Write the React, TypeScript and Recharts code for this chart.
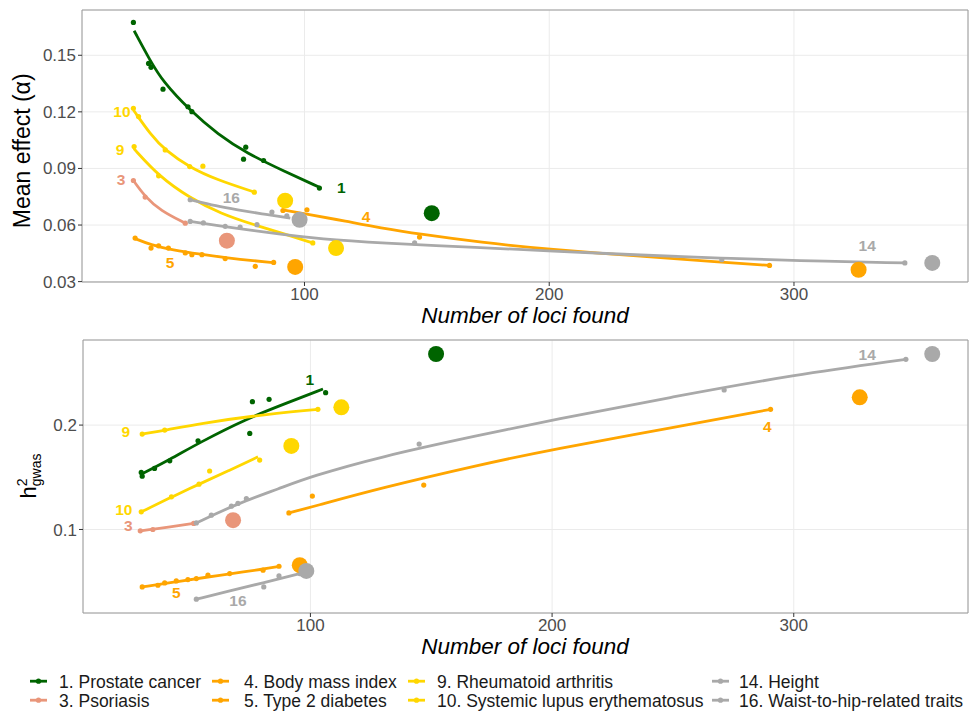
import React from 'react';
import { ComposedChart, Line, Scatter, XAxis, YAxis, CartesianGrid, ReferenceArea } from 'recharts';

type P = [number, number];

// ---------- categories / colours ----------
const seriesIds = ['1', '3', '4', '5', '9', '10', '14', '16'];
const seriesNames = [
  '1. Prostate cancer', '3. Psoriasis', '4. Body mass index', '5. Type 2 diabetes',
  '9. Rheumatoid arthritis', '10. Systemic lupus erythematosus', '14. Height', '16. Waist-to-hip-related traits',
];
const seriesColors = ['#006400', '#E9967A', '#FFA500', '#FFA500', '#FFD700', '#FFD700', '#A9A9A9', '#A9A9A9'];

// ---------- top panel: mean effect ----------
const topPts1: P[] = [[30.1, 0.1674], [36.3, 0.1457], [37.3, 0.1436], [42.2, 0.132], [52.4, 0.1227], [54.0, 0.1201], [76.0, 0.1013], [75.1, 0.0949], [83.3, 0.0942], [106.1, 0.0796]];
const topFit1: P[] = [[30.4, 0.163], [37, 0.147], [42.2, 0.136], [53, 0.121], [64.7, 0.108], [76.5, 0.098], [91.8, 0.0885], [106.1, 0.08]];
const topPts3: P[] = [[30.1, 0.0836], [34.9, 0.0748], [51.3, 0.061]];
const topFit3: P[] = [[30.1, 0.0836], [34.9, 0.075], [41.1, 0.0677], [51.3, 0.061]];
const topPts4: P[] = [[91.2, 0.0677], [101.0, 0.0681], [147.0, 0.0536], [290.0, 0.0386]];
const topFit4: P[] = [[91.2, 0.068], [101, 0.0658], [117, 0.062], [131, 0.0585], [147, 0.0552], [172, 0.0508], [200, 0.047], [238.5, 0.0434], [269, 0.0404], [290, 0.0386]];
const topPts5: P[] = [[30.8, 0.0531], [37.3, 0.0478], [40.4, 0.049], [44.4, 0.0478], [51.3, 0.0452], [54.0, 0.0443], [58.1, 0.0443], [67.6, 0.0422], [79.9, 0.0381], [87.4, 0.0402]];
const topFit5: P[] = [[30.8, 0.0528], [37.1, 0.0495], [46.1, 0.0468], [57.6, 0.0445], [68.7, 0.0425], [79.4, 0.041], [87.4, 0.0401]];
const topPts9: P[] = [[30.4, 0.1016], [40.4, 0.0861], [103.4, 0.0505]];
const topFit9: P[] = [[30.3, 0.1005], [40.4, 0.086], [53.2, 0.0743], [65.9, 0.066], [79.2, 0.0602], [92.8, 0.0549], [103.4, 0.0505]];
const topPts10: P[] = [[30.1, 0.1219], [32.2, 0.1175], [43.1, 0.0998], [53.1, 0.091], [58.5, 0.0912], [79.5, 0.0774]];
const topFit10: P[] = [[30.1, 0.121], [37.1, 0.108], [43.2, 0.0995], [53.2, 0.0905], [64.2, 0.084], [79.5, 0.0775]];
const topPts14: P[] = [[53.3, 0.0619], [58.7, 0.0611], [67.6, 0.0593], [73.7, 0.0589], [80.6, 0.0602], [145.0, 0.0505], [270.5, 0.0416], [345.3, 0.0399]];
const topFit14: P[] = [[53.3, 0.0619], [65, 0.0596], [79.2, 0.0571], [90.1, 0.0551], [106.4, 0.0526], [130.9, 0.0505], [171.8, 0.048], [200, 0.0463], [238.5, 0.044], [270.5, 0.0424], [300, 0.0412], [345.3, 0.0399]];
const topPts16: P[] = [[53.3, 0.0734], [86.7, 0.0669], [92.8, 0.0649]];
const topFit16: P[] = [[53.4, 0.0734], [64.2, 0.07], [72.5, 0.0681], [82.3, 0.066], [94.2, 0.0637]];
const topBig: P[] = [[152.0, 0.0663], [68.3, 0.0517], [326.4, 0.0363], [96.2, 0.0378], [112.9, 0.0478], [92.1, 0.0729], [356.5, 0.0399], [98.0, 0.0628]];
const topLabelPos: P[] = [[115, 0.0797], [25.1, 0.084], [125.2, 0.0644], [45.1, 0.04], [24.7, 0.0998], [25.4, 0.1201], [329.9, 0.049], [70.1, 0.0744]];

// ---------- bottom panel: h2 gwas ----------
const botPts1: P[] = [[30.0, 0.1547], [30.4, 0.1511], [35.5, 0.1585], [41.8, 0.1658], [53.5, 0.185], [76.0, 0.2224], [82.9, 0.2247], [74.9, 0.192], [106.3, 0.231]];
const botFit1: P[] = [[30.0, 0.153], [41.8, 0.167], [53.9, 0.183], [73.5, 0.206], [90.1, 0.221], [105.2, 0.2345]];
const botPts3: P[] = [[29.6, 0.0987], [34.8, 0.1], [51.7, 0.1058]];
const botFit3: P[] = [[29.6, 0.0988], [34.8, 0.1], [51.7, 0.1058]];
const botPts4: P[] = [[91.1, 0.1159], [100.8, 0.132], [146.9, 0.1425], [290.4, 0.2151]];
const botFit4: P[] = [[91.1, 0.1159], [100.8, 0.1217], [128.7, 0.1395], [170.1, 0.162], [200, 0.1767], [250.2, 0.1976], [290.4, 0.2151]];
const botPts5: P[] = [[30.4, 0.045], [36.9, 0.0466], [39.7, 0.0488], [44.5, 0.0507], [49.3, 0.052], [52.8, 0.053], [57.6, 0.0562], [66.6, 0.0578], [80.4, 0.061], [87.0, 0.0648]];
const botFit5: P[] = [[30.4, 0.045], [44.5, 0.05], [57.6, 0.0545], [66.6, 0.0575], [80.4, 0.062], [87.0, 0.0645]];
const botPts9: P[] = [[30.4, 0.1914], [39.7, 0.1952], [103.1, 0.2151]];
const botFit9: P[] = [[30.4, 0.1914], [39.7, 0.195], [55, 0.2017], [74.9, 0.2085], [103.1, 0.2151]];
const botPts10: P[] = [[30.0, 0.1169], [42.5, 0.1313], [53.9, 0.1434], [58.3, 0.156], [79.0, 0.1665]];
const botFit10: P[] = [[30.0, 0.1169], [42.5, 0.131], [53.9, 0.1434], [66, 0.156], [78.3, 0.1696]];
const botPts14: P[] = [[52.8, 0.1063], [59.0, 0.1137], [67.3, 0.1223], [70.0, 0.125], [73.5, 0.1297], [145.0, 0.1818], [271.2, 0.2336], [346.4, 0.263]];
const botFit14: P[] = [[52.8, 0.1063], [70, 0.125], [87.3, 0.1393], [99.7, 0.1504], [128.7, 0.1696], [170.1, 0.1904], [200, 0.2048], [250.2, 0.2272], [300, 0.248], [346.4, 0.263]];
const botPts16: P[] = [[52.8, 0.0332], [80.7, 0.045], [87.0, 0.0555], [95.6, 0.0578]];
const botFit16: P[] = [[52.8, 0.0332], [66.6, 0.0411], [80.7, 0.049], [95.6, 0.0578]];
const botBig: P[] = [[152.0, 0.2681], [68.0, 0.1089], [327.3, 0.2266], [95.6, 0.0658], [112.8, 0.217], [92.1, 0.18], [357.3, 0.2681], [98.3, 0.0603]];
const botLabelPos: P[] = [[99.7, 0.2439], [24.6, 0.1035], [289.1, 0.1984], [44.5, 0.04], [23.6, 0.1943], [22.8, 0.1195], [330.4, 0.268], [70.0, 0.0315]];

// ---------- axes ----------
const xTicks = [100, 200, 300];
const topYTicks = [0.03, 0.06, 0.09, 0.12, 0.15];
const botYTicks = [0.1, 0.2];

const topPts = [topPts1, topPts3, topPts4, topPts5, topPts9, topPts10, topPts14, topPts16];
const topFits = [topFit1, topFit3, topFit4, topFit5, topFit9, topFit10, topFit14, topFit16];
const botPts = [botPts1, botPts3, botPts4, botPts5, botPts9, botPts10, botPts14, botPts16];
const botFits = [botFit1, botFit3, botFit4, botFit5, botFit9, botFit10, botFit14, botFit16];

const toXY = (a: P[]) => a.map(([x, y]) => ({ x, y }));
const FONT = '"Liberation Sans", Arial, Helvetica, sans-serif';

type PanelProps = {
  height: number; margin: any; yWidth: number; xDomain: [number, number]; yDomain: [number, number];
  yTicks: number[]; yDigits: number; pts: P[][]; fits: P[][]; big: P[]; labelPos: P[];
};

function Panel(props: PanelProps) {
  const { height, margin, yWidth, xDomain, yDomain, yTicks, yDigits, pts, fits, big, labelPos } = props;
  const labelData = labelPos.map(([x, y], i) => ({ x, y, t: seriesIds[i], c: seriesColors[i] }));
  return (
    <ComposedChart width={970} height={height} margin={margin}>
      <CartesianGrid stroke="#ebebeb" strokeWidth={1} />
      <XAxis type="number" dataKey="x" domain={xDomain} ticks={xTicks} allowDataOverflow
        axisLine={false} tickLine={{ stroke: '#333333' }} tickSize={4} tickMargin={2} height={20}
        tick={{ fill: '#4d4d4d', fontSize: 17, fontFamily: FONT }} interval={0} />
      <YAxis type="number" dataKey="y" domain={yDomain} ticks={yTicks} allowDataOverflow width={yWidth}
        axisLine={false} tickLine={{ stroke: '#333333' }} tickSize={4} tickMargin={2}
        tickFormatter={(v: number) => v.toFixed(yDigits)}
        tick={{ fill: '#4d4d4d', fontSize: 17, fontFamily: FONT }} interval={0} />
      <ReferenceArea x1={xDomain[0]} x2={xDomain[1]} y1={yDomain[0]} y2={yDomain[1]}
        fill="none" fillOpacity={0} stroke="#9a9a9a" strokeWidth={1} ifOverflow="visible" />
      {fits.map((f, i) => (
        <Line key={'f' + i} data={toXY(f)} dataKey="y" type="basis" stroke={seriesColors[i]}
          strokeWidth={2.8} dot={false} activeDot={false} isAnimationActive={false} />
      ))}
      {pts.map((p, i) => (
        <Scatter key={'p' + i} data={toXY(p)} dataKey="y" fill={seriesColors[i]} isAnimationActive={false}
          shape={(s: any) => <circle cx={s.cx} cy={s.cy} r={2.6} fill={seriesColors[i]} />} />
      ))}
      {big.map((b, i) => (
        <Scatter key={'b' + i} data={toXY([b])} dataKey="y" fill={seriesColors[i]} isAnimationActive={false}
          shape={(s: any) => <circle cx={s.cx} cy={s.cy} r={8} fill={seriesColors[i]} />} />
      ))}
      <Scatter data={labelData} dataKey="y" isAnimationActive={false}
        shape={(s: any) => (
          <text x={s.cx} y={s.cy} textAnchor="middle" dominantBaseline="central" fill={s.payload.c}
            fontSize={15.5} fontWeight="bold" fontFamily={FONT}>{s.payload.t}</text>
        )} />
    </ComposedChart>
  );
}

const legendCols = [[0, 1], [2, 3], [4, 5], [6, 7]];
const legendKeyX = [30, 212, 408, 712];
const legendTextX = [59, 244, 437, 739];
const legendRowY = [687.5, 706.5];

export default function App() {
  return (
    <div style={{ position: 'absolute', left: 0, top: 0, width: 970, height: 711, background: '#ffffff', fontFamily: FONT, overflow: 'hidden' }}>
      <div style={{ position: 'absolute', left: 0, top: 0 }}>
        <Panel height={330} margin={{ top: 10, right: 2, left: 0, bottom: 28 }} yWidth={82}
          xDomain={[9.1, 371.1]} yDomain={[0.0298, 0.174]} yTicks={topYTicks} yDigits={2}
          pts={topPts} fits={topFits} big={topBig} labelPos={topLabelPos} />
      </div>
      <div style={{ position: 'absolute', left: 0, top: 330 }}>
        <Panel height={320} margin={{ top: 10, right: 2, left: 0, bottom: 17 }} yWidth={83}
          xDomain={[5.9, 372.1]} yDomain={[0.02, 0.2815]} yTicks={botYTicks} yDigits={1}
          pts={botPts} fits={botFits} big={botBig} labelPos={botLabelPos} />
      </div>
      <svg width={970} height={711} style={{ position: 'absolute', left: 0, top: 0, pointerEvents: 'none' }}>
        <text x={525} y={323} textAnchor="middle" fontSize={22.5} fontStyle="italic" fill="#000" fontFamily={FONT}>Number of loci found</text>
        <text x={525} y={654} textAnchor="middle" fontSize={22.5} fontStyle="italic" fill="#000" fontFamily={FONT}>Number of loci found</text>
        <text transform="translate(30,150.8) rotate(-90)" textAnchor="middle" fontSize={23} fill="#000" fontFamily={FONT}>Mean effect (α)</text>
        <text transform="translate(36,476) rotate(-90)" textAnchor="middle" fill="#000" fontFamily={FONT}>
          <tspan fontSize={22}>h</tspan>
          <tspan fontSize={14} dy={-9}>2</tspan>
          <tspan fontSize={14} dx={-7.8} dy={14}>gwas</tspan>
        </text>
        {legendCols.map((col, ci) => col.map((si, ri) => (
          <g key={si}>
            <line x1={legendKeyX[ci]} x2={legendKeyX[ci] + 17} y1={legendRowY[ri] - 6.3} y2={legendRowY[ri] - 6.3}
              stroke={seriesColors[si]} strokeWidth={2.8} />
            <circle cx={legendKeyX[ci] + 8.5} cy={legendRowY[ri] - 6.3} r={2.6} fill={seriesColors[si]} />
            <text x={legendTextX[ci]} y={legendRowY[ri]} fontSize={17.5} fill="#1a1a1a" fontFamily={FONT}>{seriesNames[si]}</text>
          </g>
        )))}
      </svg>
    </div>
  );
}
